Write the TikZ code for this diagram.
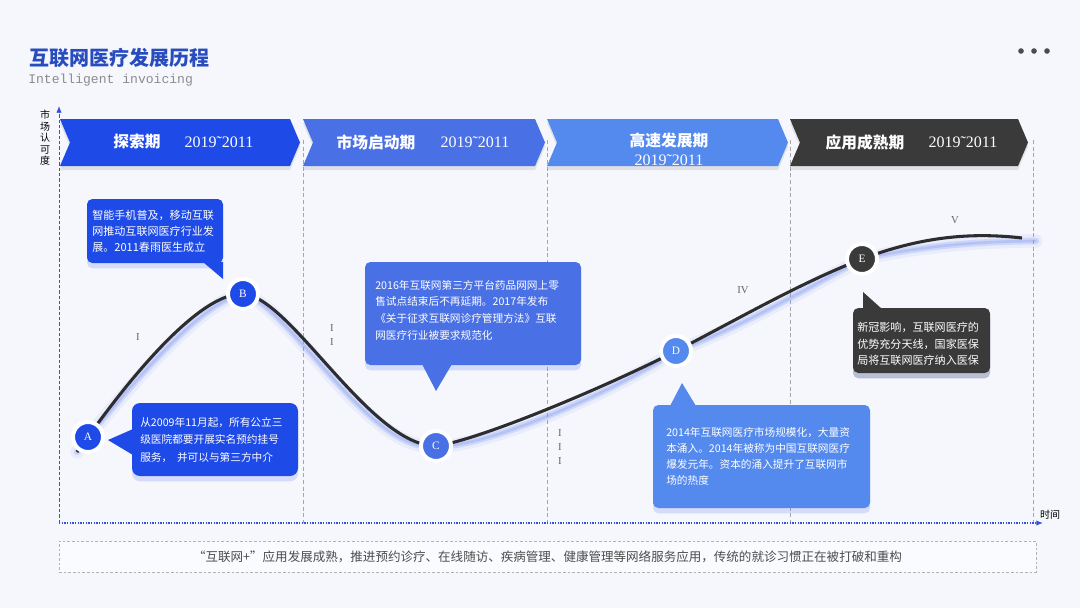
\documentclass[tikz,border=0pt]{standalone}
\usepackage{fontspec}
\setmainfont{Liberation Serif}
\setmonofont{Liberation Mono}
\newfontfamily\cjk{Noto Sans CJK SC}
\usetikzlibrary{shadows,arrows.meta}
\definecolor{bg}{RGB}{245,247,253}
\definecolor{titleblue}{RGB}{40,76,190}
\definecolor{bA}{RGB}{30,74,232}
\definecolor{bB}{RGB}{74,112,229}
\definecolor{bC}{RGB}{84,137,238}
\definecolor{dk}{RGB}{58,58,58}
\definecolor{axisblue}{RGB}{50,82,222}
\definecolor{curvec}{RGB}{45,45,48}
\tikzset{
  banner/.style={drop shadow={opacity=0.18, shadow xshift=0pt, shadow yshift=-3pt}},
  btext/.style={text=white, inner sep=0pt, font=\cjk\bfseries\fontsize{11.8}{14}\selectfont},
  byear/.style={text=white, inner sep=0pt, font=\rmfamily\fontsize{12}{14}\selectfont},
  circ/.style={circle, draw=white, line width=3pt, minimum size=22.5pt, inner sep=0pt,
     text=white, font=\rmfamily\fontsize{8.5}{10}\selectfont,
     drop shadow={opacity=0.25, shadow xshift=0pt, shadow yshift=-1.5pt}},
  cbox/.style={rectangle, rounded corners=4pt, inner sep=0pt,
     drop shadow={opacity=0.22, shadow xshift=0pt, shadow yshift=-4pt, fill=bA!70}},
  ctext/.style={text=white, inner sep=0pt, align=left, anchor=west},
  rom/.style={text=black!60, inner sep=0pt, font=\rmfamily\fontsize{8}{10.5}\selectfont, align=center},
  vline/.style={black!35, dash pattern=on 3pt off 2pt, line width=0.5pt},
}
\begin{document}
\begin{tikzpicture}[x=0.75pt,y=-0.75pt]
\fill[bg] (0,0) rectangle (1080,608);
\useasboundingbox (0,0) rectangle (1080,608);

% title
\node[anchor=west, inner sep=0pt, text=titleblue, font=\cjk\bfseries\fontsize{15}{18}\selectfont] (title) at (29,58) {互联网医疗发展历程};
\node[anchor=west, inner sep=0pt, text=black!45, font=\ttfamily\fontsize{9.8}{12}\selectfont] (sub) at (28,80) {Intelligent invoicing};
\fill[black!70] (1021,51) circle (2.8) (1034,51) circle (2.8) (1047,51) circle (2.8);

% grid lines
\draw[vline] (303,140) -- (303,523);
\draw[vline] (547,140) -- (547,523);
\draw[vline] (790,140) -- (790,523);
\draw[vline] (1033,140) -- (1033,523);

% axes
\coordinate (org) at (59,523);
\coordinate (ytop) at (59,106);
\coordinate (xend) at (1043,523);
\draw[axisblue, dash pattern=on 2.5pt off 1.5pt, line width=0.6pt, -{Latex[length=5pt,width=4pt]}] (org) -- (ytop);
\draw[axisblue, dash pattern=on 1pt off 1pt, line width=0.8pt, -{Latex[length=5pt,width=4pt]}] (org) -- (xend);
\node[inner sep=0pt, align=center, font=\cjk\fontsize{7.5}{8.6}\selectfont] (ylab) at (45,138) {市\\场\\认\\可\\度};
\node[inner sep=0pt, font=\cjk\fontsize{7.5}{9}\selectfont] (xlab) at (1050,515) {时间};

% banners
\fill[bA, banner] (60,119) -- (290,119) -- (300,142.5) -- (290,166) -- (60,166) -- (70,142.5) -- cycle;
\fill[bB, banner] (303,119) -- (535,119) -- (545,142.5) -- (535,166) -- (303,166) -- (313,142.5) -- cycle;
\fill[bC, banner] (547,119) -- (778,119) -- (788,142.5) -- (778,166) -- (547,166) -- (557,142.5) -- cycle;
\fill[dk, banner] (790,119) -- (1018,119) -- (1028,142.5) -- (1018,166) -- (790,166) -- (800,142.5) -- cycle;
\node[btext] (p1) at (137,142) {探索期};
\node[byear] (y1) at (219,142) {2019˜2011};
\node[btext] (p2) at (376,142) {市场启动期};
\node[byear] (y2) at (475,142) {2019˜2011};
\node[btext] (p3) at (669,141) {高速发展期};
\node[byear] (y3) at (669,160) {2019˜2011};
\node[btext] (p4) at (865,142) {应用成熟期};
\node[byear] (y4) at (963,142) {2019˜2011};

% curve points
\coordinate (c0) at (77,452);
\coordinate (pa) at (88,437);
\coordinate (pb) at (243,294);
\coordinate (pc) at (436,446);
\coordinate (pd) at (676,351);
\coordinate (pe) at (862,259);
\coordinate (c9) at (1022,238);
\coordinate (g9) at (1036,241);

% glow
\begin{scope}[yshift=-7pt]
\draw[bA!50, line width=10pt, opacity=0.12, line cap=round] (c0) -- (pa) .. controls (130,378) and (200,292) .. (pb) .. controls (290,296) and (370,446) .. (pc) .. controls (480,440) and (610,385) .. (pd) .. controls (740,318) and (800,283) .. (pe) .. controls (920,237) and (975,232) .. (g9);
\draw[bA!55, line width=5pt, opacity=0.25, line cap=round] (c0) -- (pa) .. controls (130,378) and (200,292) .. (pb) .. controls (290,296) and (370,446) .. (pc) .. controls (480,440) and (610,385) .. (pd) .. controls (740,318) and (800,283) .. (pe) .. controls (920,237) and (975,232) .. (g9);
\draw[bA!60, line width=2pt, opacity=0.3, line cap=round] (c0) -- (pa) .. controls (130,378) and (200,292) .. (pb) .. controls (290,296) and (370,446) .. (pc) .. controls (480,440) and (610,385) .. (pd) .. controls (740,318) and (800,283) .. (pe) .. controls (920,237) and (975,232) .. (g9);
\end{scope}
\draw[curvec, line width=2.3pt] (c0) -- (pa) .. controls (130,378) and (200,292) .. (pb) .. controls (290,296) and (370,446) .. (pc) .. controls (480,440) and (610,385) .. (pd) .. controls (740,318) and (800,283) .. (pe) .. controls (920,237) and (970,232) .. (c9);

% roman labels
\node[rom] (r1) at (138,337) {I};
\node[rom] (r2) at (332,335) {I\\I};
\node[rom] (r3) at (560,447) {I\\I\\I};
\node[rom] (r4) at (743,290) {IV};
\node[rom] (r5) at (955,220) {V};

% callouts
% B
\node[cbox, fill=bA, minimum width=102pt, minimum height=48pt] (boxB) at (155,231) {};
\fill[bA] (203,262) -- (223,262) -- (223,279) -- cycle;
\node[ctext, font=\cjk\fontsize{8.3}{12}\selectfont] (tB) at (92,231) {智能手机普及，移动互联\\网推动互联网医疗行业发\\展。2011春雨医生成立};
% A
\node[cbox, fill=bA, minimum width=124.5pt, minimum height=54.75pt, rounded corners=6pt] (boxA) at (215,439.5) {};
\fill[bA] (133,429) -- (108,440) -- (133,455) -- cycle;
\node[ctext, font=\cjk\fontsize{8}{13}\selectfont] (tA) at (140,440) {从2009年11月起，所有公立三\\级医院都要开展实名预约挂号\\服务，\ \ 并可以与第三方中介};
% C
\node[cbox, fill=bB, minimum width=162pt, minimum height=77.25pt] (boxC) at (473,313.5) {};
\fill[bB] (422,364) -- (436,391) -- (452,364) -- cycle;
\node[ctext, font=\cjk\fontsize{8}{12.5}\selectfont] (tC) at (375,310) {2016年互联网第三方平台药品网网上零\\售试点结束后不再延期。2017年发布\\《关于征求互联网诊疗管理方法》互联\\网医疗行业被要求规范化};
% D
\node[cbox, fill=bC, minimum width=162.75pt, minimum height=77.25pt] (boxD) at (761.5,456.5) {};
\fill[bC] (670,406) -- (682,383) -- (696,406) -- cycle;
\node[ctext, font=\cjk\fontsize{8}{12}\selectfont] (tD) at (666,456) {2014年互联网医疗市场规模化，大量资\\本涌入。2014年被称为中国互联网医疗\\爆发元年。资本的涌入提升了互联网市\\场的热度};
% E
\node[cbox, fill=dk, minimum width=102.75pt, minimum height=48.75pt, drop shadow={opacity=0.25, shadow xshift=0pt, shadow yshift=-4pt, fill=black!60}] (boxE) at (921.5,340.5) {};
\fill[dk] (863,309) -- (863,292) -- (882,309) -- cycle;
\node[ctext, font=\cjk\fontsize{8.3}{12.4}\selectfont] (tE) at (857,344) {新冠影响，互联网医疗的\\优势充分天线，国家医保\\局将互联网医疗纳入医保};

% markers
\node[circ, fill=bA] (A) at (pa) {A};
\node[circ, fill=bA] (B) at (pb) {B};
\node[circ, fill=bB] (C) at (pc) {C};
\node[circ, fill=bC] (D) at (pd) {D};
\node[circ, fill=dk] (E) at (pe) {E};

% footer
\node[draw=black!30, dash pattern=on 2pt off 1.5pt, fill=white!55!bg, minimum width=732.75pt, minimum height=23.25pt, inner sep=0pt,
  text=black!70, font=\cjk\fontsize{9.4}{11}\selectfont] (foot) at (547.5,556.5) {“互联网+”应用发展成熟，推进预约诊疗、在线随访、疾病管理、健康管理等网络服务应用，传统的就诊习惯正在被打破和重构};
\end{tikzpicture}
\end{document}
